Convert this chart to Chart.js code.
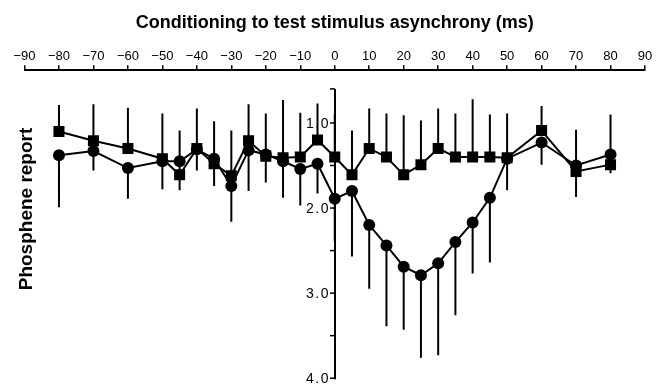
<!DOCTYPE html>
<html lang="en">
<head>
  <meta charset="UTF-8" />
  <title>Phosphene report vs asynchrony</title>
  <script src="https://cdn.jsdelivr.net/npm/chart.js"></script>
  <style>
    html, body { margin: 0; padding: 0; background: #fff; }
    #wrap { width: 657px; height: 386px; }
  </style>
</head>
<body>
  <div id="wrap"><canvas id="chart"></canvas></div>

  <script>
    // Conditioning to test stimulus asynchrony (ms)
    const asynchrony = [-80, -70, -60, -50, -45, -40, -35, -30, -25, -20, -15, -10, -5, 0,
                        5, 10, 15, 20, 25, 30, 35, 40, 45, 50, 60, 70, 80];

    // squares (error bars drawn upward)
    const squareMean = [1.10, 1.21, 1.30, 1.42, 1.61, 1.30, 1.48, 1.62, 1.21, 1.39, 1.41, 1.40, 1.20, 1.40,
                        1.61, 1.30, 1.40, 1.61, 1.49, 1.30, 1.40, 1.40, 1.40, 1.41, 1.09, 1.57, 1.49];
    const squareErr  = [0.31, 0.43, 0.48, 0.53, 0.52, 0.47, 0.50, 0.53, 0.43, 0.50, 0.68, 0.52, 0.43, 0.50,
                        0.52, 0.47, 0.51, 0.70, 0.52, 0.47, 0.51, 0.68, 0.50, 0.52, 0.29, 0.49, 0.59];

    // circles (error bars drawn downward)
    const circleMean = [1.38, 1.33, 1.53, 1.45, 1.45, 1.31, 1.42, 1.74, 1.32, 1.37, 1.45, 1.54, 1.48, 1.89,
                        1.80, 2.20, 2.44, 2.69, 2.79, 2.65, 2.40, 2.17, 1.88, 1.42, 1.23, 1.50, 1.37];
    const circleErr  = [0.61, 0.23, 0.36, 0.33, 0.34, 0.25, 0.32, 0.42, 0.48, 0.33, 0.43, 0.43, 0.35, 0.50,
                        0.77, 0.75, 0.95, 0.74, 0.97, 1.08, 0.86, 0.60, 0.76, 0.37, 0.26, 0.37, 0.22];

    // y ticks: end of axis, labelled whole values and half-way marks
    const yTicks = [0.6, 1.0, 1.5, 2.0, 2.5, 3.0, 3.5, 4.0];

    const FONT = "'Liberation Sans', Arial, sans-serif";

    // one-sided error bars: squares up, circles down
    const errorBars = {
      id: 'errorBars',
      beforeDatasetsDraw(chart) {
        const { ctx, scales: { x, y } } = chart;
        ctx.save();
        ctx.strokeStyle = '#000';
        ctx.lineWidth = 2;
        ctx.beginPath();
        asynchrony.forEach((t, i) => {
          const px = x.getPixelForValue(t);
          ctx.moveTo(px, y.getPixelForValue(squareMean[i]));
          ctx.lineTo(px, y.getPixelForValue(squareMean[i] - squareErr[i]));
          ctx.moveTo(px, y.getPixelForValue(circleMean[i]));
          ctx.lineTo(px, y.getPixelForValue(circleMean[i] + circleErr[i]));
        });
        ctx.stroke();
        ctx.restore();
      }
    };

    // the y axis sits at x = 0 and only runs 0.6 .. 4.0, so it is drawn here
    const axisExtras = {
      id: 'axisExtras',
      afterDraw(chart) {
        const { ctx, scales: { x, y } } = chart;
        const px = Math.round(x.getPixelForValue(0));
        ctx.save();
        ctx.strokeStyle = '#000';
        ctx.fillStyle = '#000';
        ctx.lineWidth = 2;
        ctx.beginPath();
        ctx.moveTo(px, y.getPixelForValue(yTicks[0]));
        ctx.lineTo(px, y.getPixelForValue(yTicks[yTicks.length - 1]) + 1);
        ctx.stroke();

        ctx.lineWidth = 1.5;
        ctx.font = '14px ' + FONT;
        ctx.letterSpacing = '1.5px';
        ctx.textAlign = 'right';
        ctx.textBaseline = 'middle';
        yTicks.forEach(v => {
          const py = y.getPixelForValue(v);
          ctx.beginPath();
          ctx.moveTo(px, py);
          ctx.lineTo(px - 5, py);
          ctx.stroke();
          if (Number.isInteger(v)) ctx.fillText(v.toFixed(1), px - 5, py + 1);
        });

        ctx.letterSpacing = '0px';
        ctx.translate(27, 209);
        ctx.rotate(-Math.PI / 2);
        ctx.font = 'bold 19px ' + FONT;
        ctx.textAlign = 'center';
        ctx.textBaseline = 'middle';
        ctx.fillText('Phosphene report', 0, 0);
        ctx.restore();
      }
    };

    const common = {
      borderColor: '#000',
      backgroundColor: '#000',
      borderWidth: 2,
      pointBorderWidth: 0,
      pointHoverRadius: 0,
      tension: 0,
      fill: false
    };

    new Chart(document.getElementById('chart'), {
      type: 'line',
      data: {
        datasets: [
          Object.assign({
            label: 'circles',
            data: asynchrony.map((t, i) => ({ x: t, y: circleMean[i] })),
            pointStyle: 'circle',
            pointRadius: 6
          }, common),
          Object.assign({
            label: 'squares',
            data: asynchrony.map((t, i) => ({ x: t, y: squareMean[i] })),
            pointStyle: 'rect',
            pointRadius: 7.8
          }, common)
        ]
      },
      options: {
        responsive: true,
        maintainAspectRatio: false,
        animation: false,
        layout: { padding: { left: 24.5, right: 12, top: 0, bottom: 4 } },
        plugins: {
          legend: { display: false },
          tooltip: { enabled: false }
        },
        scales: {
          x: {
            type: 'linear',
            position: 'top',
            min: -90,
            max: 90,
            grid: { drawOnChartArea: false, drawTicks: true, tickLength: 5, color: '#000', lineWidth: 1.5 },
            border: { display: true, color: '#000', width: 2 },
            ticks: {
              stepSize: 10,
              autoSkip: false,
              maxRotation: 0,
              padding: 1,
              color: '#000',
              font: { family: FONT, size: 13 },
              callback: v => v < 0 ? '\u2212' + Math.abs(v) : String(v)
            },
            title: {
              display: true,
              text: 'Conditioning to test stimulus asynchrony (ms)',
              color: '#000',
              font: { family: FONT, size: 18, weight: 'bold' },
              padding: { top: 12, bottom: 14 }
            }
          },
          y: {
            type: 'linear',
            position: { x: 0 },
            reverse: true,
            min: 0.38,
            max: 4.0,
            afterBuildTicks: scale => { scale.ticks = yTicks.map(v => ({ value: v })); },
            grid: { display: false },
            border: { display: false },
            ticks: { display: false }
          }
        }
      },
      plugins: [errorBars, axisExtras]
    });
  </script>
</body>
</html>
